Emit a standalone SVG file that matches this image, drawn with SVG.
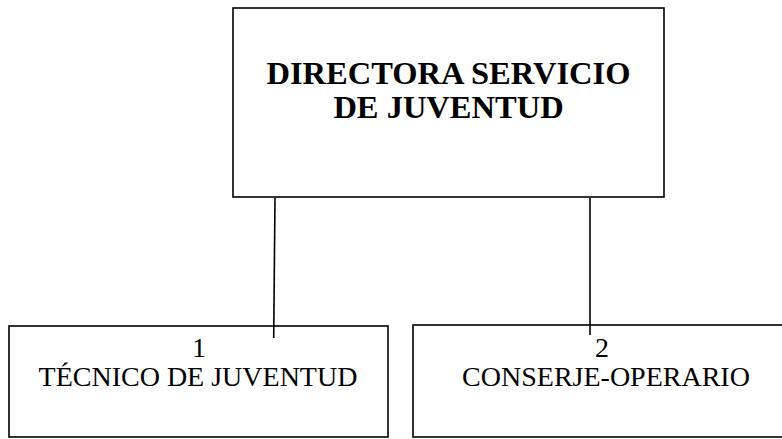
<svg xmlns="http://www.w3.org/2000/svg" width="782" height="439" viewBox="0 0 782 439">
<style>
.box{fill:#fff;stroke:#000;stroke-width:1.6}
.conn{stroke:#000;stroke-width:1.6;fill:none}
.t{font-family:"Liberation Serif","Times New Roman",serif;fill:#000;text-anchor:middle}
.b{font-weight:bold;font-size:32.5px}
.r{font-size:28px}
</style>
<rect width="782" height="439" fill="#fff"/>
<g id="director">
<rect class="box" x="233" y="8" width="431" height="189"/>
<text class="t b" x="448.5" y="84">DIRECTORA SERVICIO</text>
<text class="t b" x="448.5" y="118">DE JUVENTUD</text>
</g>
<g id="tecnico">
<rect class="box" x="9" y="326" width="379" height="111"/>
<text class="t r" x="199" y="357">1</text>
<text class="t r" x="198" y="386">TÉCNICO DE JUVENTUD</text>
</g>
<g id="conserje">
<rect class="box" x="413" y="325" width="390" height="112"/>
<text class="t r" x="602" y="357">2</text>
<text class="t r" x="606" y="386">CONSERJE-OPERARIO</text>
</g>
<g id="connectors">
<line class="conn" x1="275" y1="198" x2="273.7" y2="338"/>
<line class="conn" x1="590" y1="198" x2="590" y2="335"/>
</g>
</svg>
